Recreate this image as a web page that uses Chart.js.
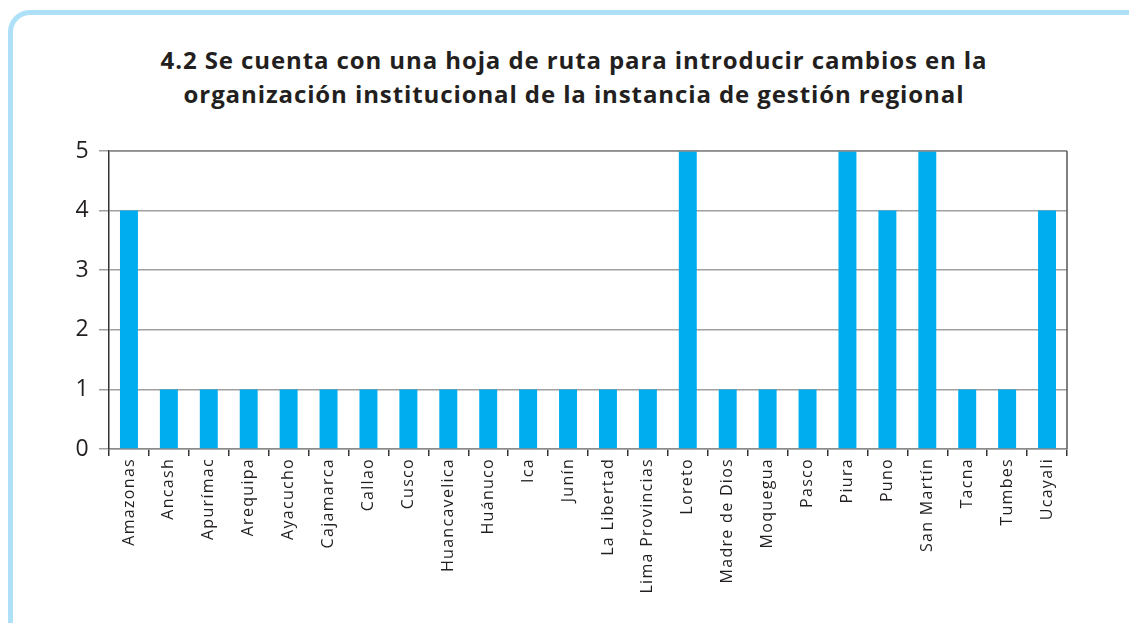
<!DOCTYPE html>
<html>
<head>
<meta charset="utf-8">
<script src="https://cdn.jsdelivr.net/npm/chart.js@4"></script>
<style>
	html, body { margin: 0; padding: 0; background: #fff; overflow: hidden; }
	#wrap { position: relative; width: 1129px; height: 623px; overflow: hidden; }
	#frame {
		position: absolute; left: 8px; top: 10px; width: 1300px; height: 800px;
		border: 5px solid #aee0f8; border-radius: 22px; box-sizing: border-box;
	}
	#title {
		position: absolute; left: 0; top: 43px; width: 1148px; text-align: center;
		font-family: "Open Sans", sans-serif; font-weight: bold; font-size: 24px;
		letter-spacing: 0.9px; line-height: 34px; color: #231f20;
	}
	canvas { position: absolute; left: 0; top: 0; }
</style>
</head>
<body>
<div id="wrap">
	<div id="frame"></div>
	<div id="title">4.2 Se cuenta con una hoja de ruta para introducir cambios en la<br>organización institucional de la instancia de gestión regional</div>
	<canvas id="barChart" width="1129" height="623"></canvas>
</div>
<script>
// Regiones y valores
const regiones = [
	"Amazonas", "Ancash", "Apurímac", "Arequipa", "Ayacucho", "Cajamarca",
	"Callao", "Cusco", "Huancavelica", "Huánuco", "Ica", "Junín",
	"La Libertad", "Lima Provincias", "Loreto", "Madre de Dios", "Moquegua",
	"Pasco", "Piura", "Puno", "San Martín", "Tacna", "Tumbes", "Ucayali",
];
const valores = [4, 1, 1, 1, 1, 1, 1, 1, 1, 1, 1, 1, 1, 1, 5, 1, 1, 1, 5, 4, 5, 1, 1, 4];
const ticksY = [0, 1, 2, 3, 4, 5];

// Espaciado de letras un poco mas abierto, como en el original
const espaciadoPlugin = {
	id: "espaciado",
	beforeUpdate(chart) {
		chart.ctx.letterSpacing = "1.3px";
	},
	beforeDraw(chart) {
		chart.ctx.letterSpacing = "1.3px";
	},
};

// Marco superior y derecho del area del grafico
const bordePlugin = {
	id: "borde",
	afterDraw(chart) {
		const { ctx, chartArea } = chart;
		ctx.save();
		ctx.lineWidth = 1.5;
		ctx.strokeStyle = "#8a8a8a";
		ctx.beginPath();
		ctx.moveTo(chartArea.left, chartArea.top);
		ctx.lineTo(chartArea.right, chartArea.top);
		ctx.stroke();
		ctx.strokeStyle = "#555";
		ctx.beginPath();
		ctx.moveTo(chartArea.right, chartArea.top);
		ctx.lineTo(chartArea.right, chartArea.bottom);
		ctx.stroke();
		ctx.restore();
	},
};

const ctx = document.getElementById("barChart").getContext("2d");

new Chart(ctx, {
	type: "bar",
	data: {
		labels: regiones,
		datasets: [
			{
				data: valores,
				backgroundColor: "#00aeef",
				borderWidth: 0,
				barPercentage: 0.45,
				categoryPercentage: 1,
			},
		],
	},
	options: {
		responsive: false,
		animation: false,
		layout: { padding: { top: 151, right: 62, left: 0, bottom: 0 } },
		plugins: {
			legend: { display: false },
			tooltip: { enabled: false },
		},
		scales: {
			x: {
				grid: {
					display: true,
					offset: true,
					drawOnChartArea: false,
					drawTicks: true,
					tickLength: 7,
					color: "#333",
					lineWidth: 1.5,
				},
				border: { display: true, color: "#8a8a8a", width: 1.5 },
				ticks: {
					autoSkip: false,
					maxRotation: 90,
					minRotation: 90,
					padding: 2,
					color: "#231f20",
					font: { family: "Open Sans", size: 16 },
				},
				afterFit(scale) {
					scale.height = 174;
				},
			},
			y: {
				min: 0,
				max: 5,
				afterBuildTicks(scale) {
					scale.ticks = ticksY.map((v) => ({ value: v }));
				},
				grid: {
					color: "#a0a0a0",
					lineWidth: 1.5,
					drawTicks: true,
					tickLength: 10,
				},
				border: { display: true, color: "#333", width: 1.5 },
				ticks: {
					padding: 9,
					color: "#231f20",
					font: { family: "Open Sans", size: 23 },
				},
				afterFit(scale) {
					scale.width = 109;
				},
			},
		},
	},
	plugins: [espaciadoPlugin, bordePlugin],
});
</script>
</body>
</html>
